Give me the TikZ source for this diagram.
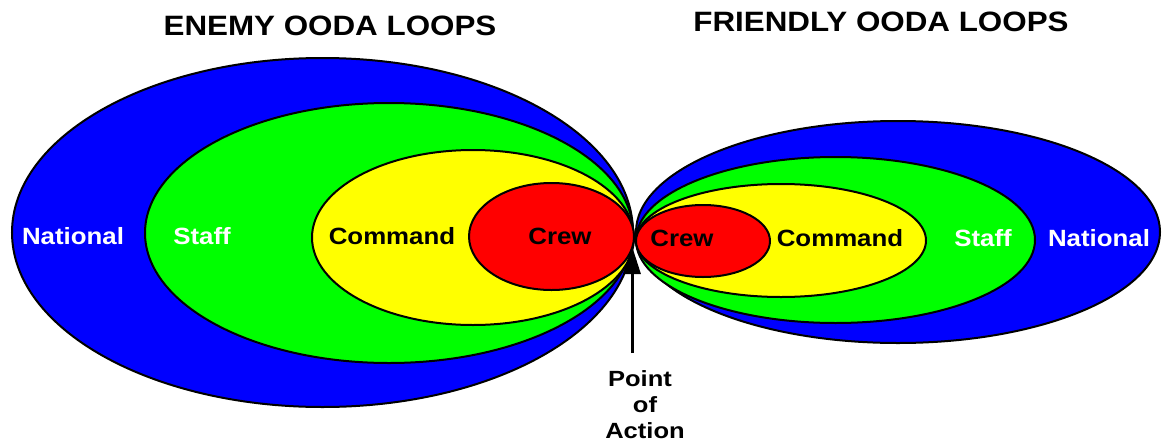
\documentclass[tikz,border=0pt]{standalone}
\usepackage{fontspec}
\setmainfont{Liberation Sans}
\usetikzlibrary{arrows.meta}
\definecolor{oblue}{RGB}{0,0,255}
\definecolor{ogreen}{RGB}{0,255,0}
\definecolor{oyellow}{RGB}{255,255,0}
\definecolor{ored}{RGB}{255,0,0}
\newcommand{\wide}[2]{\scalebox{#1}[1]{#2}}
\begin{document}
\begin{tikzpicture}[x=1pt,y=-1pt,
  loop/.style={draw=black,line width=2pt},
  lbl/.style={anchor=base,inner sep=0pt,font=\bfseries\fontsize{23.5}{28}\selectfont},
  ttl/.style={anchor=base,inner sep=0pt,font=\bfseries\fontsize{28}{32}\selectfont},
  poa/.style={anchor=base,inner sep=0pt,font=\bfseries\fontsize{22}{26}\selectfont},
  pointer/.style={line width=3pt,-{Triangle[width=17pt,length=28pt]}}]
\useasboundingbox (0,0) rectangle (1162,442);
% left (enemy) loops
\draw[loop,fill=oblue]   (322.5,232.5) ellipse [x radius=310.5pt, y radius=174.5pt];
\draw[loop,fill=ogreen]  (389,233)     ellipse [x radius=244pt, y radius=130pt];
\draw[loop,fill=oyellow] (473,237.5)   ellipse [x radius=161pt, y radius=87.5pt];
\draw[loop,fill=ored]    (551.5,236.5) ellipse [x radius=82.5pt, y radius=53.5pt];
% right (friendly) loops
\draw[loop,fill=oblue]   (898,232)   ellipse [x radius=262pt, y radius=111pt];
\draw[loop,fill=ogreen]  (835.5,240) ellipse [x radius=199.5pt, y radius=83pt];
\draw[loop,fill=oyellow] (781,240.5) ellipse [x radius=145pt, y radius=56.5pt];
\draw[loop,fill=ored]    (703,241)   ellipse [x radius=67pt, y radius=36pt];
% labels
\node[lbl,text=white] (lnat) at (73,244)  {\wide{1.10}{National}};
\node[lbl,text=white] (lstf) at (202,244) {\wide{1.10}{Staff}};
\node[lbl]            (lcmd) at (392,244) {\wide{1.10}{Command}};
\node[lbl]            (lcrw) at (560,244) {\wide{1.10}{Crew}};
\node[lbl]            (rcrw) at (682,246) {\wide{1.10}{Crew}};
\node[lbl]            (rcmd) at (840,246) {\wide{1.10}{Command}};
\node[lbl,text=white] (rstf) at (983,246) {\wide{1.10}{Staff}};
\node[lbl,text=white] (rnat) at (1099,246) {\wide{1.10}{National}};
% titles
\node[ttl] (enemy)    at (330,35) {\wide{1.12}{ENEMY OODA LOOPS}};
\node[ttl] (friendly) at (881,31) {\wide{1.12}{FRIENDLY OODA LOOPS}};
% point of action
\node[poa] (poa1) at (640,386) {\wide{1.16}{Point}};
\node[poa] (poa2) at (645,412) {\wide{1.16}{of}};
\node[poa] (poa3) at (645,438) {\wide{1.16}{Action}};
\coordinate (tail) at (632,353);
\coordinate (tip) at (632,246);
\draw[pointer] (tail) -- (tip);
\end{tikzpicture}
\end{document}
